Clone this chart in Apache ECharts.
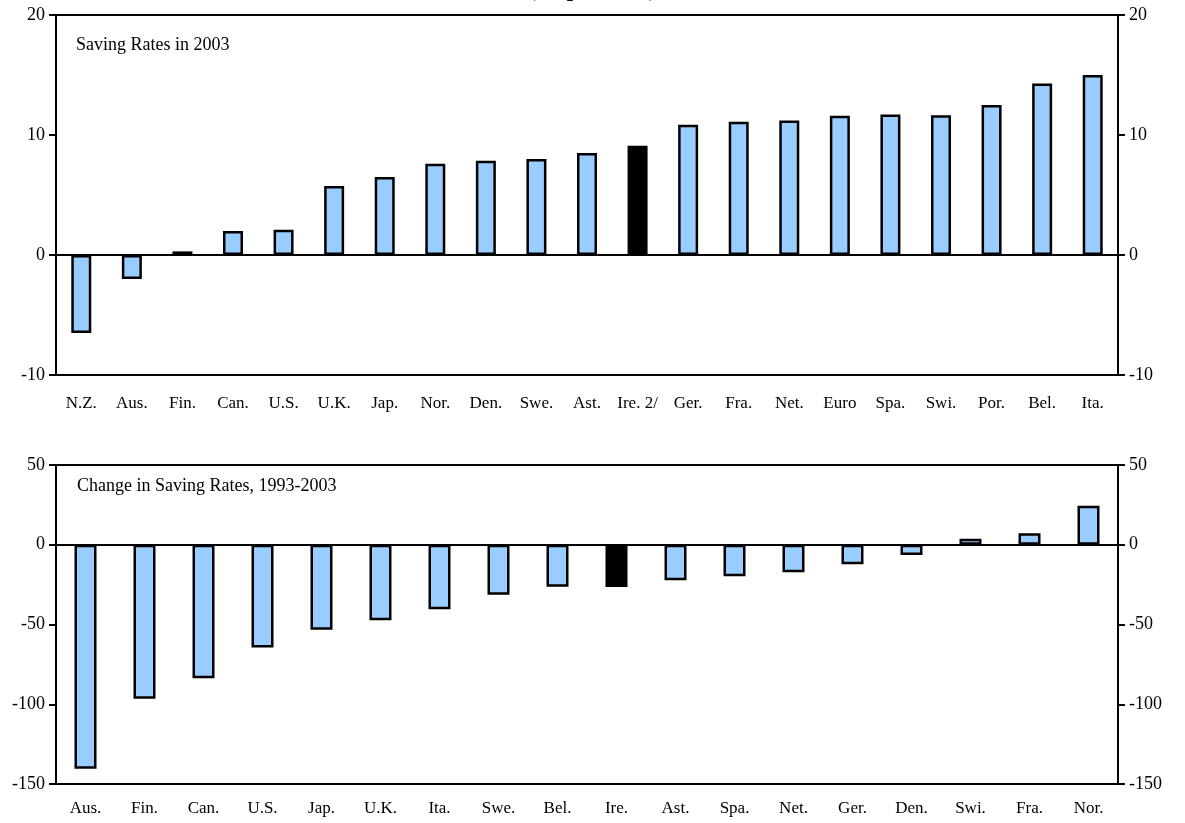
<!DOCTYPE html>
<html>
<head>
<meta charset="utf-8">
<title>Saving Rates</title>
<script src="https://cdn.jsdelivr.net/npm/echarts@6/dist/echarts.min.js"></script>
<style>
  html, body { margin: 0; padding: 0; background: #fff; }
  #chart { width: 1185px; height: 823px; }
</style>
</head>
<body>
<div id="chart"></div>
<script>
// Saving rates in 2003 (percent)
const rateCategories = ['N.Z.', 'Aus.', 'Fin.', 'Can.', 'U.S.', 'U.K.', 'Jap.', 'Nor.', 'Den.', 'Swe.', 'Ast.',
  'Ire. 2/', 'Ger.', 'Fra.', 'Net.', 'Euro', 'Spa.', 'Swi.', 'Por.', 'Bel.', 'Ita.'];
const rateValues = [-6.5, -2.0, 0.3, 2.0, 2.1, 5.75, 6.5, 7.6, 7.85, 8.0, 8.5,
  9.1, 10.85, 11.1, 11.2, 11.6, 11.7, 11.65, 12.5, 14.3, 15.0];

// Change in saving rates, 1993-2003
const changeCategories = ['Aus.', 'Fin.', 'Can.', 'U.S.', 'Jap.', 'U.K.', 'Ita.', 'Swe.', 'Bel.',
  'Ire.', 'Ast.', 'Spa.', 'Net.', 'Ger.', 'Den.', 'Swi.', 'Fra.', 'Nor.'];
const changeValues = [-140.5, -96.5, -83.7, -64.4, -53.3, -47.4, -40.5, -31.3, -26.3,
  -26.5, -22.3, -19.8, -17.3, -12.2, -6.5, 3.7, 7.2, 24.4];

// Axis ranges and tick spacing
const rateAxis = { min: -10, max: 20, interval: 10 };
const changeAxis = { min: -150, max: 50, interval: 50 };

const FONT = '"Liberation Serif", "Times New Roman", serif';
const LIGHT_BLUE = '#99CCFF';
const isIreland = name => name.indexOf('Ire') === 0;

const chart = echarts.init(document.getElementById('chart'), null, { renderer: 'canvas' });

function catAxis(gridIndex, data, position, showLabel, margin) {
  return {
    type: 'category', gridIndex, data, position,
    axisLine: { show: true, onZero: false, lineStyle: { color: '#000', width: 2 } },
    axisTick: { show: false },
    axisLabel: { show: showLabel, color: '#000', fontFamily: FONT, fontSize: 17, margin, interval: 0 },
    splitLine: { show: false }
  };
}

function valAxis(gridIndex, range, position) {
  return {
    type: 'value', gridIndex, position,
    min: range.min, max: range.max, interval: range.interval,
    axisLine: { show: true, onZero: false, lineStyle: { color: '#000', width: 2 } },
    axisTick: { show: true, inside: false, length: 7, lineStyle: { color: '#000', width: 2 } },
    axisLabel: { color: '#000', fontFamily: FONT, fontSize: 18, margin: 11 },
    splitLine: { show: false }
  };
}

function barSeries(axisIndex, values, width) {
  return {
    type: 'bar',
    xAxisIndex: axisIndex * 2, yAxisIndex: axisIndex * 2,
    data: values,
    barWidth: width,
    itemStyle: {
      color: p => isIreland(p.name) ? '#000' : LIGHT_BLUE,
      borderColor: '#000', borderWidth: 2.5
    },
    markLine: {
      silent: true, symbol: 'none', label: { show: false },
      lineStyle: { color: '#000', width: 2, type: 'solid' },
      data: [{ yAxis: 0 }],
      z: 10
    },
    animation: false
  };
}

chart.setOption({
  backgroundColor: '#fff',
  animation: false,
  grid: [
    { left: 56, right: 67, top: 15, height: 360 },
    { left: 56, right: 67, top: 465, height: 319 }
  ],
  xAxis: [
    catAxis(0, rateCategories, 'bottom', true, 20),
    catAxis(0, rateCategories, 'top', false, 0),
    catAxis(1, changeCategories, 'bottom', true, 16),
    catAxis(1, changeCategories, 'top', false, 0)
  ],
  yAxis: [
    valAxis(0, rateAxis, 'left'),
    valAxis(0, rateAxis, 'right'),
    valAxis(1, changeAxis, 'left'),
    valAxis(1, changeAxis, 'right')
  ],
  series: [
    barSeries(0, rateValues, 20),
    barSeries(1, changeValues, 22)
  ],
  graphic: [
    { type: 'text', left: 'center', top: -26, style: { text: '(In percent)', fontFamily: FONT, fontSize: 28, fill: '#000' } },
    { type: 'text', left: 76, top: 36, style: { text: 'Saving Rates in 2003', fontFamily: FONT, fontSize: 18, fill: '#000' } },
    { type: 'text', left: 77, top: 477, style: { text: 'Change in Saving Rates, 1993-2003', fontFamily: FONT, fontSize: 18, fill: '#000' } }
  ]
});
</script>
</body>
</html>
